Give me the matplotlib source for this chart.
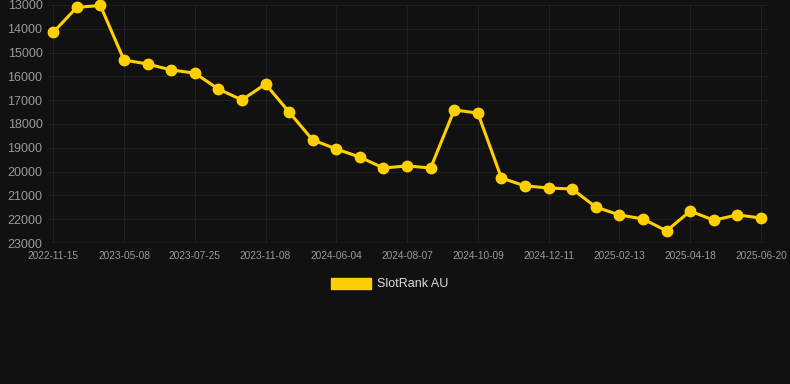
import matplotlib
matplotlib.use('Agg')
import matplotlib.pyplot as plt
from matplotlib.patches import Patch

plt.rcParams['font.family'] = ['Liberation Sans', 'DejaVu Sans']

# data
dates = ["2022-11-15", "", "", "2023-05-08", "", "", "2023-07-25", "", "",
         "2023-11-08", "", "", "2024-06-04", "", "", "2024-08-07", "", "",
         "2024-10-09", "", "", "2024-12-11", "", "", "2025-02-13", "", "",
         "2025-04-18", "", "", "2025-06-20"]
ranks = [14150, 13100, 13020, 15310, 15480, 15730, 15860, 16530, 16990,
         16320, 17500, 18670, 19050, 19390, 19850, 19760, 19850, 17410,
         17540, 20270, 20600, 20690, 20730, 21490, 21820, 21990, 22490,
         21660, 22040, 21820, 21950]
series_name = "SlotRank AU"
y_ticks = list(range(13000, 23001, 1000))

BG     = "#111111"
GOLD   = "#FFD000"
TXT    = "#9a9a9a"
GRID   = "#202020"

fig = plt.figure(figsize=(7.9, 3.84), dpi=100, facecolor=BG)
ax = fig.add_axes([48/790, 1 - 243/384, (768 - 48)/790, (243 - 5)/384])
ax.set_facecolor(BG)

x = list(range(len(ranks)))
ax.plot(x, ranks, color=GOLD, lw=2.2, marker='o', ms=7.5, zorder=3,
        clip_on=False)

ax.set_ylim(23000, 13000)
ax.set_yticks(y_ticks)
ax.set_yticklabels([str(v) for v in y_ticks])
ax.set_xlim(-0.22, 30.3)
tick_idx = [i for i, d in enumerate(dates) if d]
ax.set_xticks(tick_idx)
ax.set_xticklabels([dates[i] for i in tick_idx])

ax.grid(True, color=GRID, lw=0.8)
for s in ax.spines.values():
    s.set_visible(False)
ax.axhline(23000, color="#333333", lw=1, zorder=1)
ax.tick_params(axis='y', length=0, pad=4, labelsize=9, labelcolor=TXT)
ax.tick_params(axis='x', length=0, pad=6, labelsize=7.3, labelcolor=TXT)

leg = fig.legend(handles=[Patch(color=GOLD, label=series_name)],
                 loc='center', bbox_to_anchor=(390/790, 1 - 284/384),
                 frameon=False, handlelength=3.2, handleheight=1.0,
                 handletextpad=0.5, fontsize=9)
for t in leg.get_texts():
    t.set_color("#dddddd")

fig.savefig("out.png", dpi=100, facecolor=BG)
